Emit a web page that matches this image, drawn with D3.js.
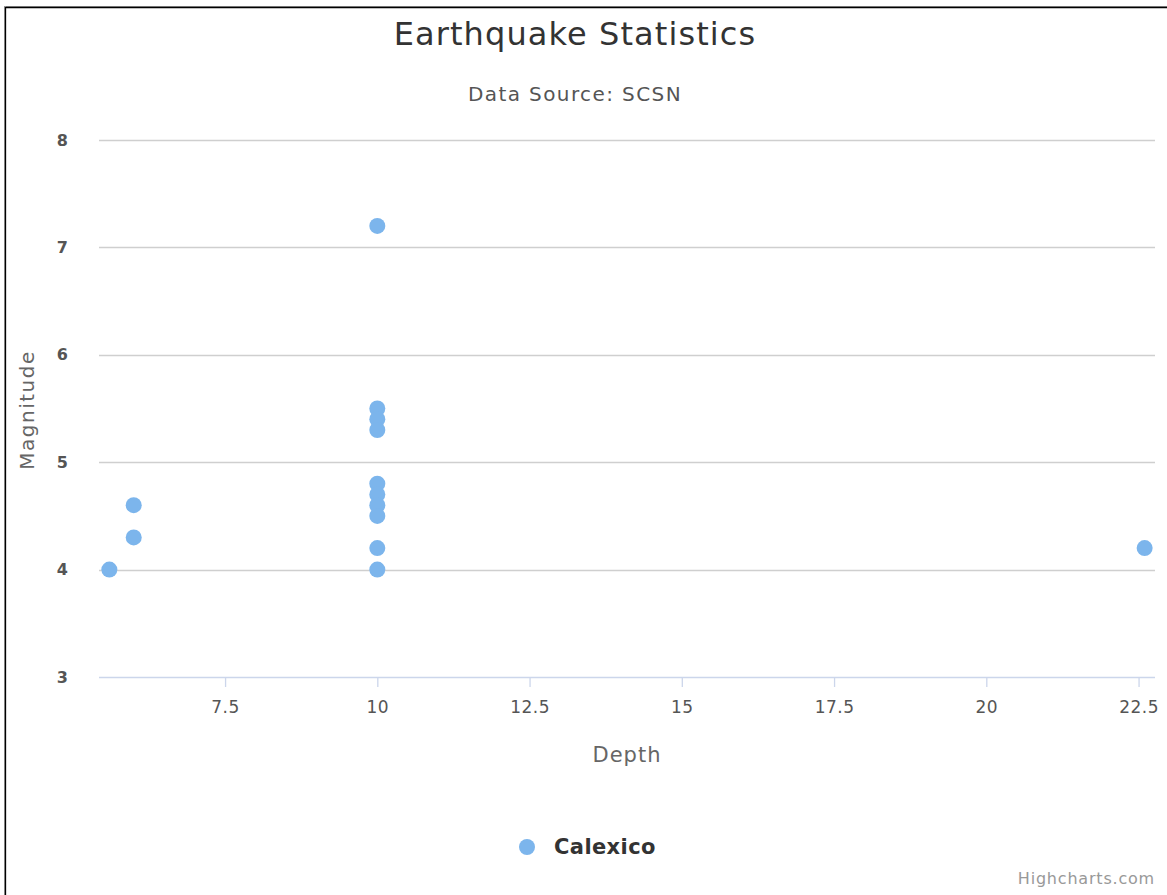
<!DOCTYPE html>
<html>
<head>
<meta charset="utf-8">
<script src="https://cdn.jsdelivr.net/npm/d3@7"></script>
<style>
  html, body { margin: 0; padding: 0; background: #fff; }
  svg { display: block; }
  text { font-family: "DejaVu Sans", "Open Sans", sans-serif; }
</style>
</head>
<body>
<svg id="chart" width="1167" height="895"></svg>
<script>
// ---- data ----
const seriesName = "Calexico";
const depths     = [5.6, 6.0, 6.0, 10, 10, 10, 10, 10, 10, 10, 10, 10, 10, 22.6];
const magnitudes = [4.0, 4.3, 4.6, 7.2, 5.5, 5.4, 5.3, 4.8, 4.7, 4.6, 4.5, 4.2, 4.0, 4.2];
const xTicks = [7.5, 10, 12.5, 15, 17.5, 20, 22.5];
const yTicks = [3, 4, 5, 6, 7, 8];
const titleText = "Earthquake Statistics";
const subtitleText = "Data Source: SCSN";
const xTitle = "Depth";
const yTitle = "Magnitude";
const creditText = "Highcharts.com";

// ---- layout ----
const W = 1167, H = 895;
const plot = { left: 99, right: 1155, top: 140, bottom: 677 };
const color = "#7cb5ec";
const font = '"DejaVu Sans", sans-serif';

const svg = d3.select("#chart");

// frame
svg.append("line").attr("x1", 5).attr("x2", W).attr("y1", 6.5).attr("y2", 6.5).attr("stroke", "#999").attr("stroke-width", 1);
svg.append("line").attr("x1", 6).attr("x2", W).attr("y1", 7.5).attr("y2", 7.5).attr("stroke", "#000").attr("stroke-width", 1.3);
svg.append("line").attr("x1", 4.5).attr("x2", 4.5).attr("y1", 6).attr("y2", H).attr("stroke", "#999").attr("stroke-width", 1);
svg.append("line").attr("x1", 5.5).attr("x2", 5.5).attr("y1", 7).attr("y2", H).attr("stroke", "#000").attr("stroke-width", 1.3);

// scales (Highcharts style padding of 1% on x)
const xMin = d3.min(depths), xMax = d3.max(depths);
const pad = (xMax - xMin) * 0.01;
const x = d3.scaleLinear().domain([xMin - pad, xMax + pad]).range([plot.left, plot.right]);
const y = d3.scaleLinear().domain([3, 8]).range([plot.bottom, plot.top]);

// grid lines
const gGrid = svg.append("g");
gGrid.selectAll("line").data(yTicks.filter(t => t !== 3)).join("line")
  .attr("x1", plot.left).attr("x2", plot.right)
  .attr("y1", d => Math.round(y(d)) + 0.5).attr("y2", d => Math.round(y(d)) + 0.5)
  .attr("stroke", "#cfcfcf").attr("stroke-width", 1.3);

// y axis labels
const yAxis = d3.axisLeft(y).tickValues(yTicks).tickSize(0).tickPadding(31).tickFormat(d3.format("d"));
const gy = svg.append("g").attr("transform", `translate(${plot.left},0)`).call(yAxis);
gy.select(".domain").remove();
gy.selectAll("text").attr("fill", "#555").attr("font-size", 16).attr("font-weight", "bold")
  .attr("font-family", font);

// x axis
const xAxis = d3.axisBottom(x).tickValues(xTicks).tickSize(10).tickPadding(14).tickFormat(d => d3.format("")(d));
const gx = svg.append("g").attr("transform", `translate(0,${plot.bottom})`).call(xAxis);
gx.select(".domain").attr("stroke", "#ccd6eb").attr("stroke-width", 1.5)
  .attr("d", `M${plot.left},0.5H${plot.right}`);
gx.selectAll(".tick line").attr("stroke", "#ccd6eb").attr("stroke-width", 1.3);
gx.selectAll("text").attr("fill", "#555").attr("font-size", 17).attr("letter-spacing", 0.5)
  .attr("font-family", font);

// axis titles
svg.append("text").attr("x", 627).attr("y", 762)
  .attr("text-anchor", "middle").attr("fill", "#666").attr("font-size", 21).attr("letter-spacing", 1).text(xTitle);
svg.append("text").attr("transform", `translate(34,410) rotate(-90)`)
  .attr("text-anchor", "middle").attr("fill", "#666").attr("font-size", 20).attr("letter-spacing", 1.5).text(yTitle);

// title & subtitle
svg.append("text").attr("x", 575).attr("y", 45).attr("text-anchor", "middle")
  .attr("fill", "#333").attr("font-size", 32).attr("letter-spacing", 1.1).text(titleText);
svg.append("text").attr("x", 575).attr("y", 101).attr("text-anchor", "middle")
  .attr("fill", "#555").attr("font-size", 20).attr("letter-spacing", 1.4).text(subtitleText);

// points
svg.append("g").selectAll("circle").data(depths.map((d, i) => [d, magnitudes[i]])).join("circle")
  .attr("cx", d => x(d[0])).attr("cy", d => y(d[1])).attr("r", 8).attr("fill", color);

// legend
svg.append("circle").attr("cx", 527).attr("cy", 847).attr("r", 8).attr("fill", color);
svg.append("text").attr("x", 554).attr("y", 854).attr("fill", "#333").attr("font-size", 21)
  .attr("letter-spacing", 0.4).attr("font-weight", "bold").text(seriesName);

// credits
svg.append("text").attr("x", 1155).attr("y", 884).attr("text-anchor", "end")
  .attr("fill", "#999").attr("font-size", 16).attr("letter-spacing", 0.8).text(creditText);
</script>
</body>
</html>
